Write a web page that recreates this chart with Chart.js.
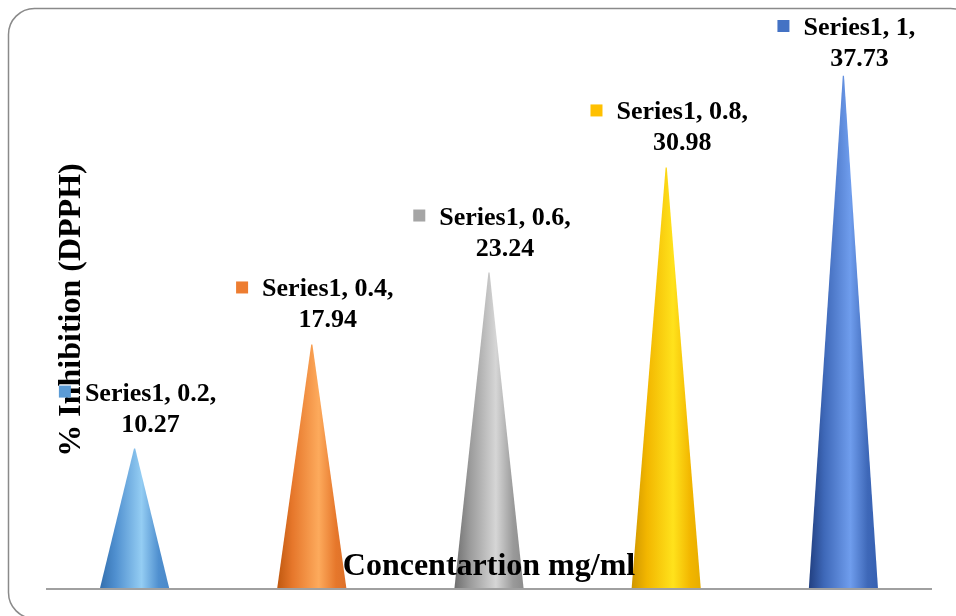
<!DOCTYPE html>
<html>
<head>
<meta charset="utf-8">
<script src="https://cdn.jsdelivr.net/npm/chart.js@4/dist/chart.umd.min.js"></script>
<style>
  html, body { margin: 0; padding: 0; background: #ffffff; }
  #wrap { width: 956px; height: 616px; position: relative; }
</style>
</head>
<body>
<div id="wrap"><canvas id="chart" width="956" height="616"></canvas></div>
<script>
// Concentration categories (mg/ml) and DPPH inhibition values (%)
const seriesName = 'Series1';
const concentrations = ['0.2', '0.4', '0.6', '0.8', '1'];
const inhibition = [10.27, 17.94, 23.24, 30.98, 37.73];
const yTicks = [0, 10, 20, 30, 40];

// Cone shading: [left edge, body, highlight, right edge] per point
const coneShades = [
  ['#336fae', '#4f8fcf', '#94cdf3', '#4a89c9'],
  ['#c0580f', '#e6772b', '#fdaa5c', '#dd712a'],
  ['#6e6e6e', '#9a9a9a', '#d6d6d6', '#8c8c8c'],
  ['#cf9600', '#f2b600', '#ffe21c', '#e8ad00'],
  ['#213f80', '#3e68b8', '#6f9ded', '#3560b2']
];
const keyColours = ['#5B9BD5', '#ED7D31', '#A5A5A5', '#FFC000', '#4472C4'];

const serif = "'Liberation Serif', 'Times New Roman', serif";

const frame = {
  id: 'frame',
  beforeDraw(chart) {
    const ctx = chart.ctx;
    ctx.save();
    ctx.fillStyle = '#ffffff';
    ctx.fillRect(0, 0, chart.width, chart.height);
    ctx.beginPath();
    ctx.roundRect(8.5, 8.5, 968, 610, 26);
    ctx.strokeStyle = '#8a8a8a';
    ctx.lineWidth = 1.5;
    ctx.stroke();
    ctx.restore();
  }
};

const cones = {
  id: 'cones',
  afterDatasetsDraw(chart) {
    const ctx = chart.ctx;
    const meta = chart.getDatasetMeta(0);
    const area = chart.chartArea;
    meta.data.forEach((bar, i) => {
      const half = bar.width / 2;
      const shade = coneShades[i];
      const g = ctx.createLinearGradient(bar.x - half, 0, bar.x + half, 0);
      g.addColorStop(0, shade[0]);
      g.addColorStop(0.22, shade[1]);
      g.addColorStop(0.6, shade[2]);
      g.addColorStop(0.85, shade[1]);
      g.addColorStop(1, shade[3]);
      ctx.save();
      ctx.beginPath();
      ctx.moveTo(bar.x - half, bar.base);
      ctx.lineTo(bar.x - 0.6, bar.y);
      ctx.lineTo(bar.x + 0.6, bar.y);
      ctx.lineTo(bar.x + half, bar.base);
      ctx.closePath();
      ctx.fillStyle = g;
      ctx.fill();
      ctx.restore();
    });

    // category axis line
    ctx.save();
    ctx.strokeStyle = '#a0a0a0';
    ctx.lineWidth = 2;
    ctx.beginPath();
    ctx.moveTo(area.left, area.bottom + 1);
    ctx.lineTo(area.right, area.bottom + 1);
    ctx.stroke();
    ctx.restore();
  },
  afterDraw(chart) {
    const ctx = chart.ctx;
    const area = chart.chartArea;
    const meta = chart.getDatasetMeta(0);

    // axis titles, drawn inside the plot area
    ctx.save();
    ctx.fillStyle = '#000000';
    ctx.font = 'bold 32px ' + serif;
    ctx.textAlign = 'center';
    ctx.textBaseline = 'alphabetic';
    ctx.fillText('Concentartion mg/ml', (area.left + area.right) / 2, area.bottom - 13);
    ctx.translate(80, 310);
    ctx.rotate(-Math.PI / 2);
    ctx.fillText('% Inhibition (DPPH)', 0, 0);
    ctx.restore();

    // data labels: series name, category, value
    ctx.save();
    ctx.font = 'bold 26px ' + serif;
    ctx.fillStyle = '#000000';
    ctx.textBaseline = 'alphabetic';
    meta.data.forEach((bar, i) => {
      const line1 = seriesName + ', ' + concentrations[i] + ',';
      const line2 = inhibition[i].toFixed(2);
      const cx = bar.x + 16;
      const base2 = Math.max(bar.y - 17, 66);
      const base1 = base2 - 31;
      const w1 = ctx.measureText(line1).width;
      ctx.textAlign = 'center';
      ctx.fillText(line1, cx, base1);
      ctx.fillText(line2, cx, base2);
      ctx.fillStyle = keyColours[i];
      ctx.fillRect(cx - w1 / 2 - 26, base1 - 15, 12, 12);
      ctx.fillStyle = '#000000';
    });
    ctx.restore();
  }
};

new Chart(document.getElementById('chart'), {
  type: 'bar',
  data: {
    labels: concentrations,
    datasets: [{
      label: seriesName,
      data: inhibition,
      backgroundColor: 'rgba(0,0,0,0)',
      borderWidth: 0,
      categoryPercentage: 1,
      barPercentage: 0.39
    }]
  },
  options: {
    responsive: false,
    animation: false,
    devicePixelRatio: 1,
    layout: { padding: { left: 46, right: 24, top: 45, bottom: 28 } },
    plugins: { legend: { display: false }, tooltip: { enabled: false } },
    scales: {
      x: { display: false, offset: true, grid: { display: false } },
      y: {
        display: false,
        min: yTicks[0],
        max: yTicks[yTicks.length - 1],
        ticks: { stepSize: 10 },
        grid: { display: false }
      }
    }
  },
  plugins: [frame, cones]
});
</script>
</body>
</html>
